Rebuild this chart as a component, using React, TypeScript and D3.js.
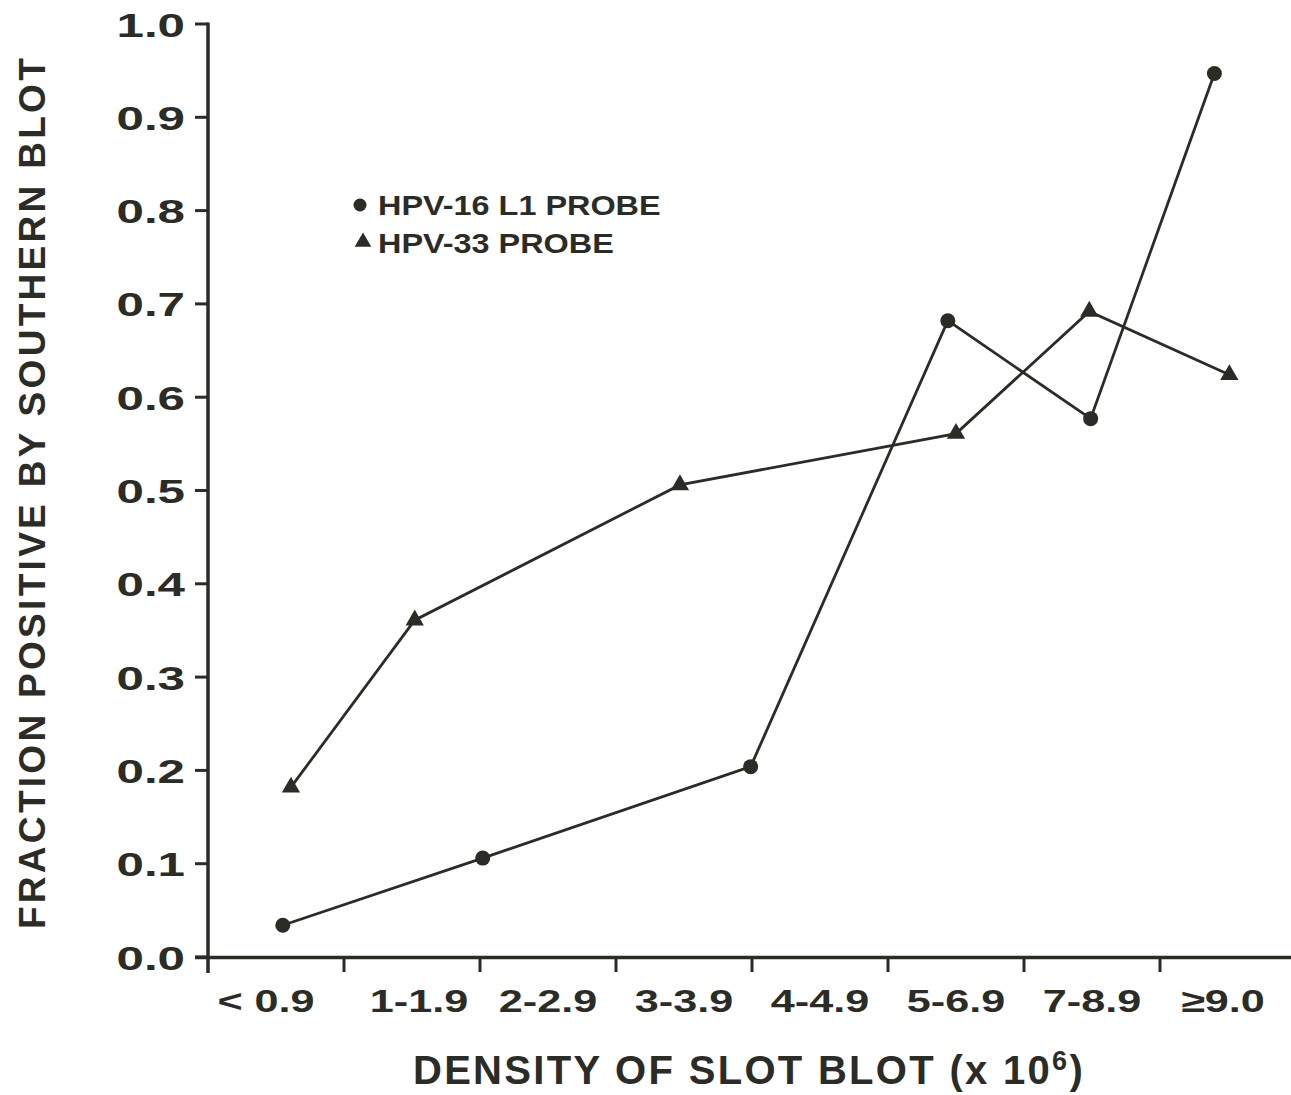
import React from "react";
import * as d3 from "d3";

const categories = ["< 0.9", "1-1.9", "2-2.9", "3-3.9", "4-4.9", "5-6.9", "7-8.9", "≥9.0"];
const yTicks = [0, 0.1, 0.2, 0.3, 0.4, 0.5, 0.6, 0.7, 0.8, 0.9, 1.0];

// x positions in category-tick units (0 = origin, 1 = first tick, ...)
const hpv16X = [0.55, 2.02, 3.99, 5.44, 6.49, 7.4];
const hpv16Y = [0.034, 0.106, 0.204, 0.682, 0.577, 0.947];
const hpv33X = [0.61, 1.52, 3.47, 5.5, 6.48, 7.51];
const hpv33Y = [0.182, 0.361, 0.506, 0.561, 0.692, 0.624];

const legendLabels = ["HPV-16 L1 PROBE", "HPV-33 PROBE"];
const xTitle = "DENSITY OF SLOT BLOT (x 10";
const xTitleSup = "6";
const yTitle = "FRACTION POSITIVE BY SOUTHERN BLOT";

const INK = "#2c2c27";
const FONT = "'Liberation Sans', Arial, Helvetica, sans-serif";

export default function App() {
  const W = 1291;
  const H = 1095;
  const x = d3.scaleLinear().domain([0, 8]).range([208, 1296]);
  const y = d3.scaleLinear().domain([0, 1]).range([957, 24]);

  const line = d3
    .line<[number, number]>()
    .x((d) => x(d[0]))
    .y((d) => y(d[1]));

  const s16: [number, number][] = hpv16X.map((v, i) => [v, hpv16Y[i]]);
  const s33: [number, number][] = hpv33X.map((v, i) => [v, hpv33Y[i]]);

  const tri = d3.symbol().type(d3.symbolTriangle).size(145)() as string;
  const triSmall = d3.symbol().type(d3.symbolTriangle).size(120)() as string;
  const fmt = d3.format(".1f");
  const x0 = x(0);
  const yBase = y(0);
  const labelDx = (i: number) => (i === 0 ? -10 : i === 1 ? 7 : i === 7 ? -5 : 0);

  return (
    <div style={{ position: "absolute", left: 0, top: 0 }}>
      <svg width={W} height={H} style={{ display: "block", background: "#ffffff" }}>
        {/* axes */}
        <line x1={x0} x2={x0} y1={y(1) - 1.5} y2={yBase + 16} stroke={INK} strokeWidth={3.5} />
        <line x1={x0 - 13} x2={W + 5} y1={yBase + 0.5} y2={yBase + 0.5} stroke={INK} strokeWidth={3.5} />
        {yTicks.map((t) => (
          <g key={"yt" + t}>
            <line x1={x0 - 13} x2={x0} y1={y(t)} y2={y(t)} stroke={INK} strokeWidth={3} />
            <text
              transform={`translate(185,${y(t) + 12.5}) scale(1.45,1)`}
              textAnchor="end"
              fontFamily={FONT}
              fontWeight="bold"
              fontSize={34}
              fill={INK}
            >
              {fmt(t)}
            </text>
          </g>
        ))}
        {d3.range(1, 8).map((i) => (
          <line key={"xt" + i} x1={x(i)} x2={x(i)} y1={yBase} y2={yBase + 15} stroke={INK} strokeWidth={3} />
        ))}
        {categories.map((c, i) => (
          <text
            key={c}
            transform={`translate(${x(i + 0.5) + labelDx(i)},1012) scale(1.35,1)`}
            textAnchor="middle"
            fontFamily={FONT}
            fontWeight="bold"
            fontSize={32}
            fill={INK}
          >
            {c}
          </text>
        ))}

        {/* series */}
        <path d={line(s16) || ""} fill="none" stroke={INK} strokeWidth={2.8} />
        <path d={line(s33) || ""} fill="none" stroke={INK} strokeWidth={2.8} />
        {s16.map((d, i) => (
          <circle key={"c" + i} cx={x(d[0])} cy={y(d[1])} r={7.5} fill={INK} />
        ))}
        {s33.map((d, i) => (
          <path key={"t" + i} d={tri} transform={`translate(${x(d[0])},${y(d[1])})`} fill={INK} />
        ))}

        {/* legend */}
        <circle cx={360} cy={205} r={6.5} fill={INK} />
        <path d={triSmall} transform="translate(363,242)" fill={INK} />
        {legendLabels.map((l, i) => (
          <text
            key={l}
            transform={`translate(378,${215 + i * 38}) scale(1.2,1)`}
            fontFamily={FONT}
            fontWeight="bold"
            fontSize={27}
            fill={INK}
          >
            {l}
          </text>
        ))}

        {/* titles */}
        <text
          x={749}
          y={1084}
          textAnchor="middle"
          fontFamily={FONT}
          fontWeight="bold"
          fontSize={40}
          letterSpacing={2.3}
          fill={INK}
        >
          {xTitle}
          <tspan fontSize={27} dy={-14}>
            {xTitleSup}
          </tspan>
          <tspan dy={14}>)</tspan>
        </text>
        <text
          transform="translate(45,492) rotate(-90)"
          textAnchor="middle"
          fontFamily={FONT}
          fontWeight="bold"
          fontSize={37}
          letterSpacing={3.3}
          fill={INK}
        >
          {yTitle}
        </text>
      </svg>
    </div>
  );
}
